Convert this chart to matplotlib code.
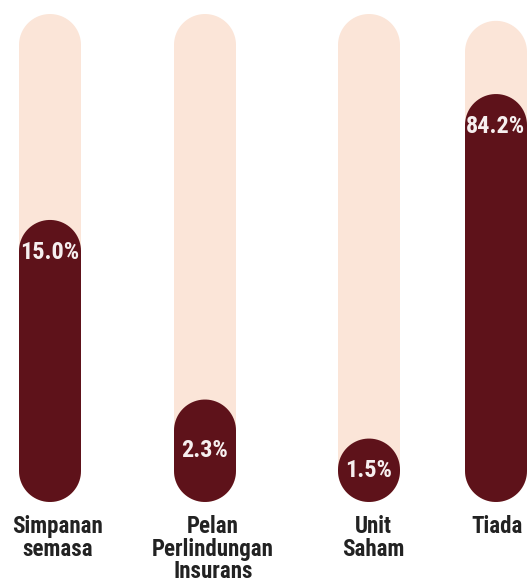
import matplotlib
matplotlib.use("Agg")
import matplotlib.pyplot as plt
from matplotlib.patches import PathPatch
from matplotlib.path import Path
from matplotlib import font_manager
import numpy as np

# ---- data ----
categories = ["Simpanan\nsemasa", "Pelan\nPerlindungan\nInsurans", "Unit\nSaham", "Tiada"]
values = [15.0, 2.3, 1.5, 84.2]              # printed percentages
fill_levels = [57.8, 21.0, 13.0, 83.6]       # drawn fill height (% of track)

# ---- layout ----
W, H, DPI = 528, 582, 100
px_per_unit = 4.88
track_bottom_px = 502
x_centers_px = [50, 205, 369, 496]
label_x_px = [58, 213, 373, 497]
bar_w_px = 62
track_tops = [100, 100, 100, 98.6]

TRACK = "#FBE5D8"
DARK = "#5E121A"

names = {f.name for f in font_manager.fontManager.ttflist}
FONT = [n for n in ["Liberation Sans Narrow", "Arial Narrow", "Roboto Condensed",
                    "DejaVu Sans"] if n in names] or ["DejaVu Sans"]


def pill(xc, y0, w, h):
    r = min(w, h) / 2
    verts = []
    cy_top = y0 + h - r
    cy_bot = y0 + r
    for a in np.linspace(np.pi, 0, 40):
        verts.append((xc + r * np.cos(a), cy_top + r * np.sin(a)))
    for a in np.linspace(0, -np.pi, 40):
        verts.append((xc + r * np.cos(a), cy_bot + r * np.sin(a)))
    verts.append(verts[0])
    codes = [Path.MOVETO] + [Path.LINETO] * (len(verts) - 2) + [Path.CLOSEPOLY]
    return Path(verts, codes)


fig = plt.figure(figsize=(W / DPI, H / DPI), dpi=DPI)
fig.patch.set_facecolor("white")
h_px = 100 * px_per_unit
ax = fig.add_axes([0, (H - track_bottom_px) / H, 1, h_px / H])
ax.set_xlim(0, W / px_per_unit)
ax.set_ylim(0, 100)
ax.axis("off")

w = bar_w_px / px_per_unit
r = w / 2
for i, (cat, val, lvl) in enumerate(zip(categories, values, fill_levels)):
    xc = x_centers_px[i] / px_per_unit
    top = track_tops[i]
    ax.add_patch(PathPatch(pill(xc, 0, w, top), fc=TRACK, ec="none", zorder=1, clip_on=False))
    ax.add_patch(PathPatch(pill(xc, 0, w, lvl), fc=DARK, ec="none", zorder=2, clip_on=False))
    ly = lvl - r - 0.4 if lvl > 30 else lvl / 2
    ax.text(xc, ly, f"{val:.1f}%", ha="center", va="center", color="#F6EFEF",
            fontsize=17.5, fontweight="bold", family=FONT, fontstretch="condensed", zorder=3)
    ax.text(label_x_px[i] / px_per_unit, -2.75, cat, ha="center", va="top", color="#222222",
            fontsize=16.5, fontweight="bold", family=FONT, fontstretch="condensed",
            linespacing=0.96, clip_on=False)

fig.savefig("out.png", dpi=DPI, facecolor="white")
